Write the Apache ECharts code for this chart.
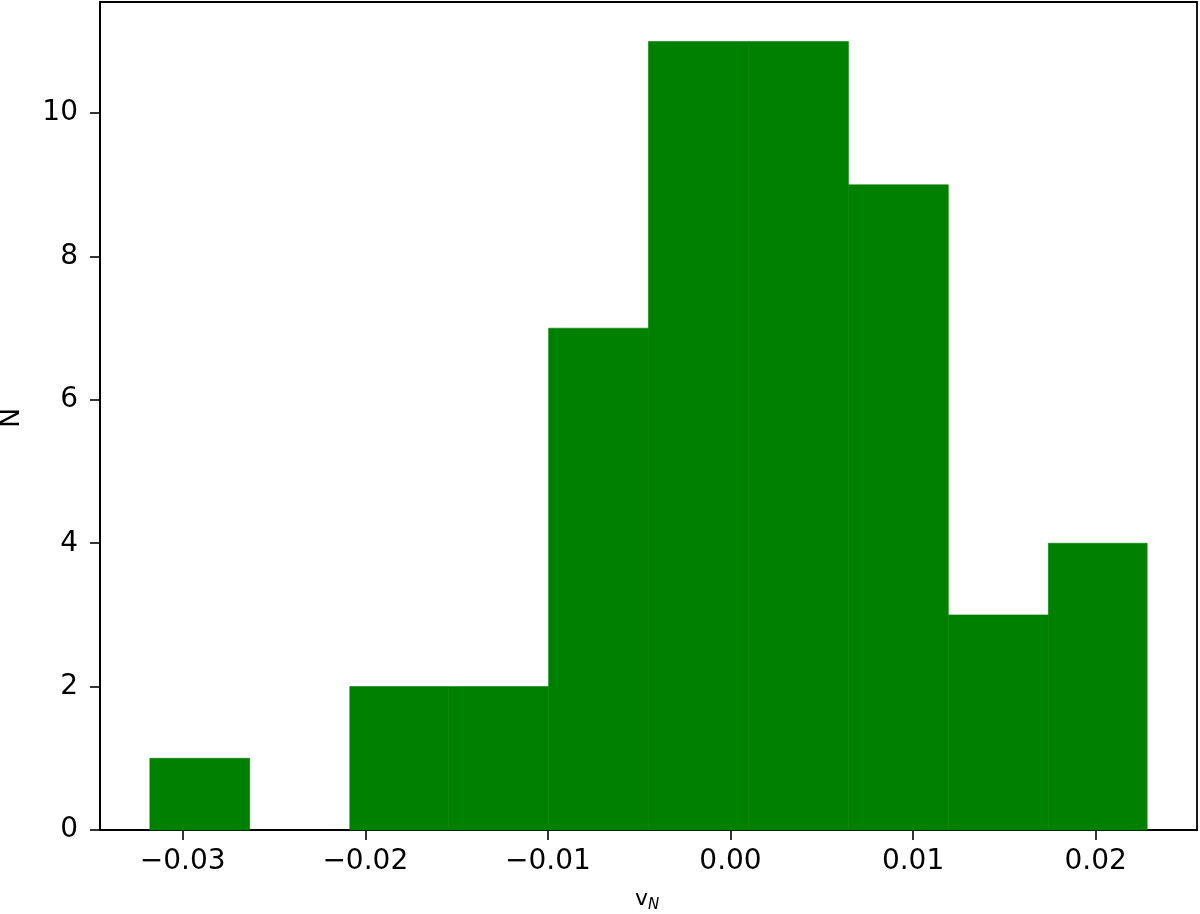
<!DOCTYPE html>
<html>
<head>
<meta charset="utf-8">
<script src="https://cdn.jsdelivr.net/npm/echarts@6/dist/echarts.min.js"></script>
<style>html,body{margin:0;padding:0;background:#fff;}#chart{width:1200px;height:914px;}</style>
</head>
<body>
<div id="chart"></div>
<script>
// Histogram bin edges and counts
var binEdges = [-0.0318, -0.02633, -0.02085, -0.01544, -0.00996, -0.00449, 0.00099, 0.00646, 0.01193, 0.01741, 0.02282];
var counts = [1, 0, 2, 2, 7, 11, 11, 9, 3, 4];
var xTicks = [-0.03, -0.02, -0.01, 0.00, 0.01, 0.02];
var yTicks = [0, 2, 4, 6, 8, 10];
var xLabel = 'v';
var xLabelSub = 'N';
var yLabel = 'N';

var data = counts.map(function (c, i) { return [binEdges[i], binEdges[i + 1], c]; });

var chart = echarts.init(document.getElementById('chart'), null, { renderer: 'canvas' });
var font = 'DejaVu Sans';
chart.setOption({
  animation: false,
  backgroundColor: '#fff',
  grid: { left: 100, right: 3, top: 2, bottom: 84, show: true, borderColor: '#000', borderWidth: 1.8, backgroundColor: 'transparent' },
  xAxis: {
    type: 'value', min: -0.03453, max: 0.02555,
    axisLine: { show: true, onZero: false, lineStyle: { color: '#000', width: 1.8 } },
    axisTick: { show: true, customValues: xTicks, length: 10, lineStyle: { color: '#000', width: 1.6 } },
    axisLabel: { customValues: xTicks, color: '#000', fontFamily: font, fontSize: 28, margin: 18,
      formatter: function (v) { return v.toFixed(2).replace('-', '\u2212'); } },
    splitLine: { show: false }
  },
  yAxis: {
    type: 'value', min: 0, max: 11.55,
    axisLine: { show: true, onZero: false, lineStyle: { color: '#000', width: 1.8 } },
    axisTick: { show: true, customValues: yTicks, length: 10, lineStyle: { color: '#000', width: 1.6 } },
    axisLabel: { customValues: yTicks, color: '#000', fontFamily: font, fontSize: 28, margin: 22,
      formatter: function (v) { return String(Math.round(v)); } },
    splitLine: { show: false }
  },
  series: [{
    type: 'custom',
    data: data,
    encode: { x: [0, 1], y: 2 },
    z: 1,
    renderItem: function (params, api) {
      if (api.value(2) <= 0) { return null; }
      var p0 = api.coord([api.value(0), 0]);
      var p1 = api.coord([api.value(1), api.value(2)]);
      return {
        type: 'rect',
        shape: { x: p0[0], y: p1[1], width: p1[0] - p0[0], height: p0[1] - p1[1] },
        style: { fill: '#008000', stroke: '#008000', lineWidth: 0.6 }
      };
    }
  }],
  graphic: [
    { type: 'text', x: 12, y: 418, rotation: Math.PI / 2,
      style: { text: yLabel, font: '27px "DejaVu Sans"', fill: '#000', align: 'center', verticalAlign: 'middle' } },
    { type: 'text', x: 635, y: 888,
      style: { text: '{a|' + xLabel + '}{b|' + xLabelSub + '}', fill: '#000',
        rich: { a: { fontFamily: font, fontSize: 22, verticalAlign: 'top' },
                b: { fontFamily: font, fontSize: 15, fontStyle: 'italic', padding: [10, 0, 0, 0] } } } }
  ]
});
</script>
</body>
</html>
